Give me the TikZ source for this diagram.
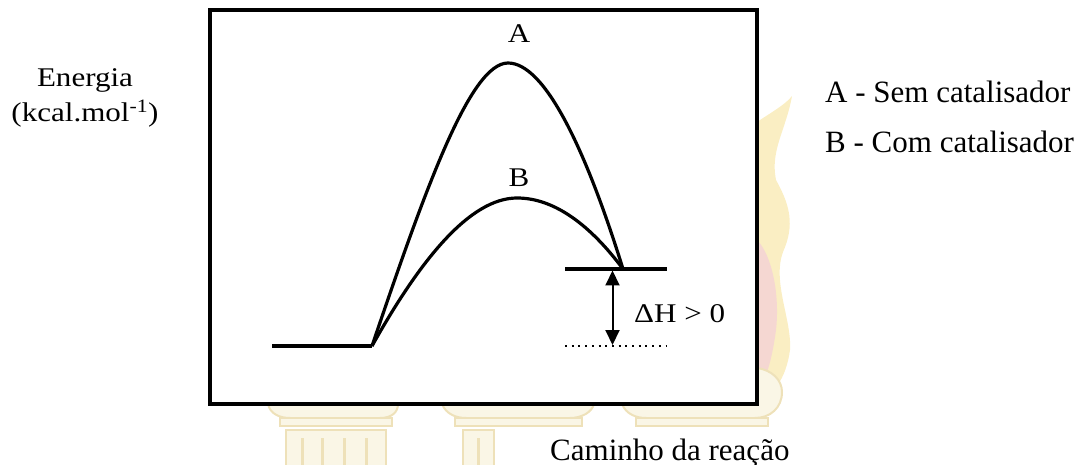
\documentclass[tikz,border=0pt]{standalone}
\usepackage{fontspec}
\setmainfont{Liberation Serif}
\newfontfamily\strfont[FakeStretch=1.15]{Liberation Serif}
\usetikzlibrary{arrows.meta}
\definecolor{wmfill}{RGB}{250,246,230}
\definecolor{wmline}{RGB}{238,225,185}
\definecolor{wmyel}{RGB}{250,238,195}
\definecolor{wmpink}{RGB}{245,215,210}
\tikzset{
  curve/.style={line width=3.2pt, line join=round},
  level/.style={line width=3.4pt},
  bigtxt/.style={inner sep=0pt, anchor=base west, font=\fontsize{31}{37}\selectfont},
  smalltxt/.style={inner sep=0pt, anchor=base, font=\strfont\fontsize{27}{33}\selectfont},
  dh/.style={line width=2pt, {Triangle[width=14pt,length=15pt]}-{Triangle[width=14pt,length=15pt]}},
  dotline/.style={line width=2pt, dash pattern=on 2pt off 4.7pt},
  wm/.style={fill=wmfill, draw=wmline, line width=2pt},
}
\begin{document}
\begin{tikzpicture}[x=1pt,y=-1pt]
\useasboundingbox (0,0) rectangle (1085,465);
% faint watermark behind the chart
\fill[wmyel] (757,122) .. controls (772,112) and (786,104) .. (792,96)
  .. controls (786,130) and (770,150) .. (776,180)
  .. controls (790,205) and (795,225) .. (783,252)
  .. controls (772,282) and (792,320) .. (790,350)
  .. controls (786,380) and (772,396) .. (757,402) -- cycle;
\fill[wmpink] (757,240) .. controls (772,255) and (780,295) .. (776,330)
  .. controls (772,360) and (766,380) .. (757,392) -- cycle;
% capitals
\draw[wm] (268,404) .. controls (270,414) and (280,418) .. (290,418) -- (380,418)
  .. controls (392,418) and (398,412) .. (398,404) -- cycle;
\draw[wm] (280,418) rectangle (392,426);
\draw[wm] (442,404) .. controls (446,414) and (456,418) .. (466,418) -- (570,418)
  .. controls (582,418) and (592,412) .. (594,404) -- cycle;
\draw[wm] (455,418) rectangle (582,426);
\draw[wm] (622,404) .. controls (626,414) and (636,418) .. (646,418) -- (755,418)
  .. controls (770,418) and (782,408) .. (782,392)
  .. controls (782,380) and (772,370) .. (757,368) -- (757,404) -- cycle;
\draw[wm] (636,418) rectangle (768,426);
% shafts
\draw[wm] (286,430) rectangle (386,470);
\foreach \xx in {302,322,344,366}
  \draw[wmline, line width=3pt] (\xx,438) -- (\xx,470);
\draw[wm] (463,430) rectangle (494,470);
\draw[wmline, line width=3pt] (478,438) -- (478,470);
% frame
\draw[line width=3.5pt, fill=white] (210,10) rectangle (757,404);
% coordinates
\coordinate (r1) at (272,346);
\coordinate (r2) at (372,346);
\coordinate (pA) at (508,63);
\coordinate (pB) at (517,198);
\coordinate (pe) at (623,269);
\coordinate (l1) at (565,269);
\coordinate (l2) at (667,269);
\coordinate (d1) at (565,346);
\coordinate (d2) at (667,346);
\coordinate (at) at (612.5,270.5);
\coordinate (ab) at (612.5,345);
% levels
\draw[level] (r1) -- (r2);
\draw[level] (l1) -- (l2);
\draw[dotline] (d1) -- (d2);
% curves
\draw[curve] (r2) .. controls (425,190) and (470,63) .. (pA)
  .. controls (545,63) and (586,150) .. (pe);
\draw[curve] (r2) .. controls (420,260) and (470,198) .. (pB)
  .. controls (555,198) and (591,226) .. (pe);
% delta H arrow
\draw[dh] (at) -- (ab);
% labels
\node[smalltxt] (la) at (519,43) {A};
\node[smalltxt] (lb) at (519,187) {B};
\node[smalltxt, anchor=base west] (ldh) at (634,323) {ΔH > 0};
\node[smalltxt] (en) at (85,87) {Energia};
\node[smalltxt] (un) at (85,122) {(kcal.mol\textsuperscript{-1})};
\node[bigtxt] (leA) at (825,103) {A - Sem catalisador};
\node[bigtxt] (leB) at (825,153) {B - Com catalisador};
\node[bigtxt] (cam) at (550,460) {Caminho da reação};
\end{tikzpicture}
\end{document}
